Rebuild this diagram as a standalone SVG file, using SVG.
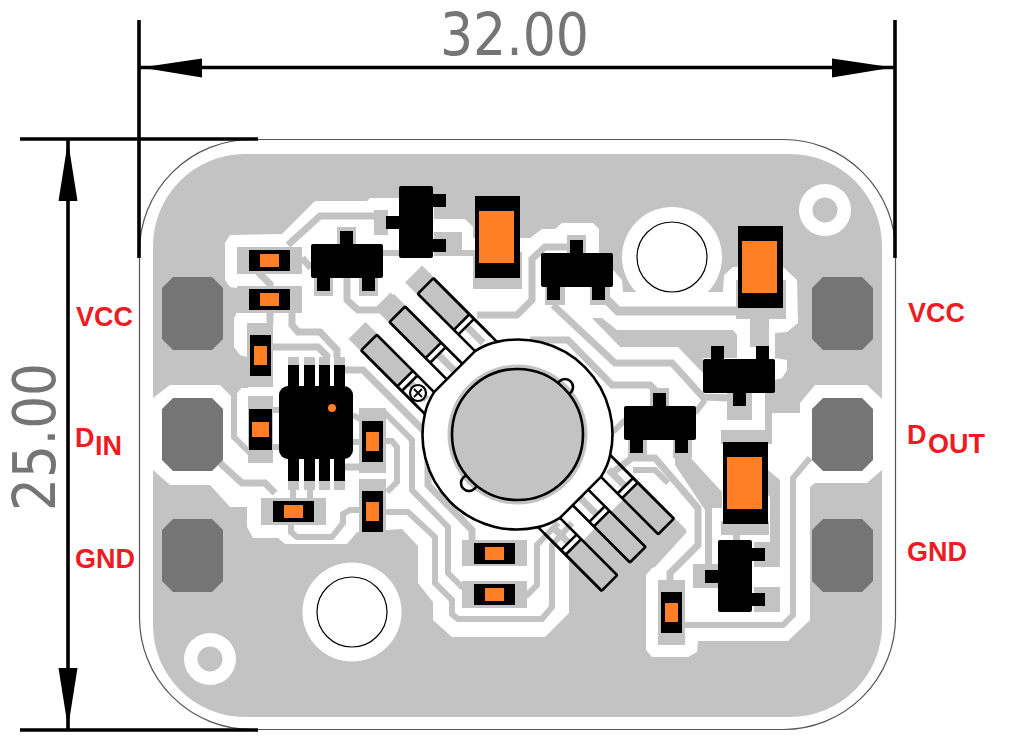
<svg xmlns="http://www.w3.org/2000/svg" xmlns:xlink="http://www.w3.org/1999/xlink" width="1011" height="743" viewBox="0 0 1011 743">
<style>
.cu{fill:#c3c3c3}
.w{fill:#fff}
.tr{fill:none;stroke:#c3c3c3;stroke-width:7;stroke-linejoin:miter}
.k{fill:#000}
.or{fill:#ff7f27}
.ln{fill:none;stroke:#000;stroke-width:2.6;stroke-linejoin:round}
.dim{fill:none;stroke:#000;stroke-width:4}
.hole{fill:#fff;stroke:#000;stroke-width:1.2}
.dt{font-family:"DejaVu Sans Condensed","DejaVu Sans",sans-serif;font-size:58px;fill:#757575}
.lb{font-family:"Liberation Sans",Arial,sans-serif;font-size:27px;font-weight:bold;fill:#ed1c24}
</style>
<defs>
<polygon id="pin" points="11,0 50,0 61,11 61,62 50,73 11,73 0,62 0,11" fill="#757575"/>
<g id="rh"><rect width="41" height="21"/><rect class="or" x="11" y="4" width="19" height="13"/></g>
<g id="rv"><rect width="21" height="41"/><rect class="or" x="4" y="11" width="13" height="19"/></g>
<g id="sot"><rect width="72" height="34" rx="2"/><rect x="29" y="-13" width="13" height="14"/><rect x="6" y="33" width="13" height="14"/><rect x="51" y="33" width="13" height="14"/></g>
<g id="cap"><rect width="45" height="82"/><rect class="or" x="4" y="15" width="35" height="52"/></g>
<g id="lpad">
<rect class="cu" x="170" y="-12" width="17" height="24"/>
<rect class="cu" x="119" y="-11" width="51" height="22"/>
<rect class="cu" x="89" y="-3" width="23" height="7"/>
<path class="ln" d="M89-11H169Q170-11 170-10V10Q170 11 169 11H89M112.500-11V11M119-11V11"/>
</g>
<g id="lpads">
<use xlink:href="#lpad" y="-40"/><use xlink:href="#lpad"/><use xlink:href="#lpad" y="40"/>
</g>
</defs>
<rect width="1011" height="743" fill="#fff"/>
<g id="board">
<rect x="139.500" y="139.500" width="756" height="590" rx="112" ry="112" fill="#fff" stroke="#555" stroke-width="1.200"/>
<rect class="cu" x="153" y="154" width="729" height="563" rx="92" ry="92"/>
<circle class="w" cx="672" cy="257" r="50"/>
<circle class="w" cx="352" cy="612" r="49.500"/>
<polygon class="w" points="153,398 170,385 220,385 232,397 236,386 247,382 247,357 240,355 234,347 234,318 237,312 237,288 230,287 225,280 225,243 230,235 282,234 315,201 367,201 370,198 434,198 434,219 465,219 473,227 473,238 530,238 542,229 555,229 562,223 593,223 599,229 599,253 605,265 613,270 622,280 623,292 723,292 724,275 733,267 783,267 797,280 798,323 787,332 775,333 775,358 787,360 787,370 782,378 775,380 767,393 767,413 800,413 800,403 815,385 867,385 882,399 882,470 867,483 815,483 810,487 810,620 788,641 698,641 697,652 688,657 652,657 646,650 646,575 652,568 655,567 687,532 637,485 569,555 569,613 545,637 452,637 433,620 433,602 418,583 418,546 402,529 357,532 347,544 285,544 278,538 253,538 247,527 247,507 230,507 210,485 170,485 153,470"/>
<circle class="w" cx="825" cy="210" r="26"/><circle class="cu" cx="825" cy="210" r="12.500"/>
<circle class="w" cx="210" cy="659" r="26"/><circle class="cu" cx="210" cy="659" r="12.500"/>
<circle class="hole" cx="672" cy="257" r="35"/>
<circle class="hole" cx="352" cy="612" r="35"/>
</g>
<g id="connectors">
<polyline class="tr" points="258,272 270,284 270,323"/>
<polyline class="tr" points="292,312 292,325 298,332 320,332 337,350 337,358"/>
<polyline class="tr" points="273,347 318,347 327,356 327,358"/>
<polyline class="tr" points="302,258 311,268"/>
<polyline class="tr" points="288,245 320,216 376,216"/>
<polyline class="tr" points="347,278 347,300 358,310 378,310 393,295"/>
<polyline class="tr" style="stroke-width:6" points="434,253 475,253"/>
<polyline class="tr" style="stroke-width:6" points="382,253 399,253"/>
<polyline class="tr" points="568,247 545,247 532,259 532,300 517,315 477,315"/>
<polyline class="tr" points="553,305 615,363 672,363 703,397 730,398"/>
<polyline class="tr" points="530,340 568,340 612,385 650,385 657,392"/>
<polyline class="tr" style="stroke-width:9" points="600,293 618,311 738,311"/>
<polyline class="tr" style="stroke-width:6" points="695,413 705,400"/>
<polyline class="tr" style="stroke-width:6" points="613,432 625,420"/>
<polyline class="tr" points="612,473 632,458 655,458 698,508 698,545 670,573 670,582"/>
<polyline class="tr" style="stroke-width:6" points="633,470 655,470 668,483"/>
<polyline class="tr" style="stroke-width:6" points="810,458 793,478 793,615 783,625 683,625"/>
<polyline class="tr" style="stroke-width:6" points="385,441 392,441 397,447 397,482 387,492"/>
<polyline class="tr" style="stroke-width:6" points="384,412 412,440 412,490 448,527 448,573 463,588"/>
<polyline class="tr" style="stroke-width:6" points="383,512 408,512 435,537 435,583 452,600 452,614 458,619 542,619 552,607 552,545 572,523"/>
<polyline class="tr" style="stroke-width:6" points="515,596 527,595 537,585 537,545 558,523"/>
<polyline class="tr" points="345,370 363,370 428,435 428,485 472,530 472,541"/>
<polyline class="tr" points="220,463 242,483 265,483 275,493"/>
<polyline class="tr" style="stroke-width:6" points="248,385 240,385 234,392 234,437 250,453"/>
<polyline class="tr" style="stroke-width:6" points="291,525 291,532 297,537 332,537 343,523 343,514 350,510 362,510"/>
<polyline class="tr" style="stroke-width:6" points="293,488 293,499"/>
<polyline class="tr" style="stroke-width:6" points="310,488 310,499"/>
<polyline class="tr" points="345,467 360,467"/>
<polyline class="tr" style="stroke-width:6" points="353,415 362,420"/>
<polyline class="tr" style="stroke-width:6" points="353,442 362,442"/>
<polyline class="tr" style="stroke-width:6" points="271,447 279,447"/>
<polyline class="tr" style="stroke-width:6" points="271,410 279,410"/>
<polygon class="cu" points="592,318 602,318 617,330 733,330 737,335 737,358 703,358 703,373 678,347 620,347"/>
<polygon class="cu" points="675,455 688,455 722,492 722,508 712,508 712,564 705,564 705,510 675,465"/>
<polygon class="cu" points="768,470 780,480 780,567 754,567 754,542 770,542 770,497 768,495"/>
<rect class="cu" x="765" y="393" width="7" height="40"/>
<rect class="cu" x="733" y="533" width="7" height="10"/>
<rect class="cu" x="750" y="317" width="19" height="30"/>
<g id="copper-pads">
<rect class="cu" x="237" y="247" width="65" height="27"/>
<rect class="cu" x="237" y="286" width="65" height="27"/>
<rect class="cu" x="247" y="323" width="26" height="64"/>
<rect class="cu" x="248" y="396" width="25" height="67"/>
<rect class="cu" x="359" y="408" width="27" height="65"/>
<rect class="cu" x="359" y="479" width="27" height="53"/>
<rect class="cu" x="261" y="498" width="65" height="27"/>
<rect class="cu" x="462" y="540" width="65" height="26"/>
<rect class="cu" x="462" y="581" width="65" height="27"/>
<rect class="cu" x="658" y="580" width="27" height="65"/>
<rect class="cu" x="473" y="252" width="49" height="37"/>
<rect class="cu" x="736" y="280" width="50" height="39"/>
<rect class="cu" x="721" y="430" width="51" height="14"/>
<rect class="cu" x="721" y="521" width="48" height="14"/>
<rect class="cu" x="374" y="210" width="14" height="25"/>
<rect class="cu" x="434" y="232" width="28" height="24"/>
<rect class="cu" x="337" y="227" width="19" height="18"/>
<rect class="cu" x="314" y="278" width="19" height="18"/>
<rect class="cu" x="359" y="278" width="19" height="18"/>
<rect class="cu" x="567" y="235" width="19" height="20"/>
<rect class="cu" x="545" y="287" width="20" height="18"/>
<rect class="cu" x="590" y="287" width="20" height="18"/>
<rect class="cu" x="727" y="393" width="25" height="27"/>
<rect class="cu" x="650" y="388" width="19" height="20"/>
<rect class="cu" x="628" y="439" width="19" height="19"/>
<rect class="cu" x="673" y="439" width="19" height="19"/>
<rect class="cu" x="693" y="564" width="26" height="24"/>
<rect class="cu" x="754" y="587" width="26" height="25"/>
<rect class="cu" x="288" y="357" width="11" height="9"/><rect class="cu" x="304" y="357" width="11" height="9"/><rect class="cu" x="319" y="357" width="11" height="9"/><rect class="cu" x="334" y="357" width="11" height="9"/>
<rect class="cu" x="288" y="480" width="11" height="10"/><rect class="cu" x="304" y="480" width="11" height="10"/><rect class="cu" x="319" y="480" width="11" height="10"/><rect class="cu" x="334" y="480" width="11" height="10"/>
</g>
</g>
<g id="pins">
<use xlink:href="#pin" x="162" y="277"/>
<use xlink:href="#pin" x="162" y="398"/>
<use xlink:href="#pin" x="162" y="519"/>
<use xlink:href="#pin" x="812" y="277"/>
<use xlink:href="#pin" x="812" y="398"/>
<use xlink:href="#pin" x="812" y="519"/>
</g>
<g id="led">
<use xlink:href="#lpads" transform="translate(517.500 434.500) rotate(45)"/>
<use xlink:href="#lpads" transform="translate(517.500 434.500) rotate(225)"/>
<path class="ln" transform="translate(517.500 434.500) rotate(45)" style="fill:#fff" d="M80-51Q86-42 89-29V29Q86 42 80 51A94.500 94.500 0 0 1-80 51Q-86 42-89 29V-29Q-86-42-80-51A94.500 94.500 0 0 1 80-51Z"/>
<path class="ln" transform="translate(517.500 434.500) rotate(45)" d="M80-51H170M80 51H170M-80-51H-170M-80 51H-170"/>
<circle class="cu" cx="517.500" cy="434.500" r="70"/>
<circle class="ln" cx="565" cy="387" r="8"/>
<circle class="ln" cx="469" cy="483" r="8"/>
<circle class="cu" stroke="#000" stroke-width="2.600" cx="517.500" cy="434.500" r="65.500"/>
<g id="polarity"><circle cx="418" cy="393" r="8" fill="#fff" stroke="#000" stroke-width="2.200"/><path d="M414 389L422 397M422 389L414 397" stroke="#000" stroke-width="1.800"/></g>
</g>
<g id="components" class="k">
<use id="R1" xlink:href="#rh" x="249" y="250"/>
<use id="R2" xlink:href="#rh" x="249" y="289"/>
<use id="R3" xlink:href="#rv" x="250" y="335"/>
<g id="R4"><rect x="249" y="409" width="23" height="41"/><rect class="or" x="252" y="422" width="17" height="15"/></g>
<use id="R5" xlink:href="#rv" x="362" y="421"/>
<use id="R6" xlink:href="#rv" x="362" y="491"/>
<use id="R7" xlink:href="#rh" x="273" y="501"/>
<use id="R8" xlink:href="#rh" x="474" y="543"/>
<use id="R9" xlink:href="#rh" x="474" y="584"/>
<use id="R10" xlink:href="#rv" x="661" y="592"/>
<use id="C1" xlink:href="#cap" x="475" y="196"/>
<use id="C2" xlink:href="#cap" x="738" y="226"/>
<use id="C3" xlink:href="#cap" x="723" y="442"/>
<use id="Q1" xlink:href="#sot" transform="translate(399 258) rotate(-90)"/>
<use id="Q2" xlink:href="#sot" x="311" y="244"/>
<use id="Q3" xlink:href="#sot" x="541" y="253"/>
<use id="Q4" xlink:href="#sot" transform="translate(775 393) rotate(180)"/>
<use id="Q5" xlink:href="#sot" x="624" y="406"/>
<use id="Q6" xlink:href="#sot" transform="translate(718 612) rotate(-90)"/>
<g id="U1">
<rect x="279" y="386" width="74" height="73" rx="9"/>
<rect x="288" y="365" width="11" height="116"/><rect x="304" y="365" width="11" height="116"/><rect x="319" y="365" width="11" height="116"/><rect x="334" y="365" width="11" height="116"/>
<circle class="or" cx="332" cy="408" r="4"/>
</g>
</g>
<g id="dimensions">
<path class="dim" d="M139 20V258M895 20V258M139 67.500H895M20 139H258M20 730H258M68 139V730" style="stroke-width:3.600"/>
<polygon class="k" points="141,67.500 202,58.500 202,77.500"/>
<polygon class="k" points="893,67.500 832,58.500 832,77.500"/>
<polygon class="k" points="68,141 58.500,201 77.500,201"/>
<polygon class="k" points="68,728 58.500,668 77.500,668"/>
<text class="dt" x="440" y="55" textLength="149" lengthAdjust="spacingAndGlyphs">32.00</text>
<text class="dt" transform="translate(55 511) rotate(-90)" textLength="148" lengthAdjust="spacingAndGlyphs">25.00</text>
</g>
<g id="labels">
<text class="lb" x="76" y="326">VCC</text>
<text class="lb" x="75" y="447">D</text>
<text class="lb" x="95" y="455">IN</text>
<text class="lb" x="75" y="568">GND</text>
<text class="lb" x="908" y="322">VCC</text>
<text class="lb" x="907" y="444">D</text>
<text class="lb" x="928" y="453">OUT</text>
<text class="lb" x="907" y="561">GND</text>
</g>
</svg>
